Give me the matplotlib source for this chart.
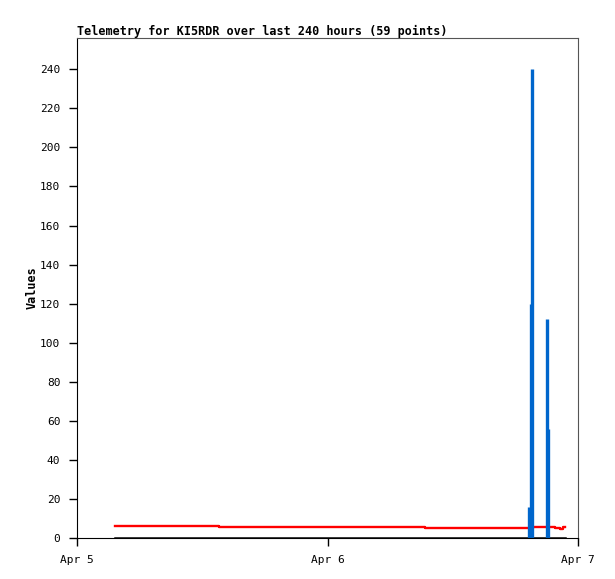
import datetime as dt
import matplotlib
matplotlib.use('Agg')
import matplotlib.pyplot as plt

base = dt.datetime(2024, 4, 5)

# hours after Apr 5 00:00
red_hours = [3.6, 13.6, 33.3, 43.7, 45.8, 46.3, 46.6, 46.8]
red_vals = [5.9, 5.4, 5.0, 5.7, 5.3, 4.6, 5.6, 5.6]

black_hours = [3.6, 46.8]
black_vals = [0, 0]

blue_hours = [43.35, 43.45, 43.6, 45.05, 45.15]
blue_vals = [16, 120, 240, 112, 56]

yticks = list(range(0, 241, 20))
xtick_days = [base, base + dt.timedelta(days=1), base + dt.timedelta(days=2)]
xtick_labels = ['Apr 5', 'Apr 6', 'Apr 7']


def to_dates(hours):
    return [base + dt.timedelta(hours=h) for h in hours]


plt.rcParams['font.family'] = 'DejaVu Sans Mono'
fig = plt.figure(figsize=(6.15, 5.79), dpi=100)
ax = fig.add_axes([77 / 615, 41 / 579, 501 / 615, 500 / 579])

ax.step(to_dates(red_hours), red_vals, where='post', color='#ff0000', lw=1.7)
ax.plot(to_dates(black_hours), black_vals, color='black', lw=1.8)
ax.vlines(to_dates(blue_hours), 0, blue_vals, color='#0066cc', lw=2.4)

ax.set_xlim(xtick_days[0], xtick_days[-1])
ax.set_ylim(0, 256)
ax.set_yticks(yticks)
ax.set_xticks(xtick_days)
ax.set_xticklabels(xtick_labels)
ax.tick_params(direction='out', length=6, labelsize=8, width=1, pad=6)

ax.set_title('Telemetry for KI5RDR over last 240 hours (59 points)',
             loc='left', fontsize=8.5, fontweight='bold', pad=2)
ax.set_ylabel('Values', fontsize=8.5, fontweight='bold', labelpad=1)

for s in ['top', 'right']:
    ax.spines[s].set_color('#555555')

fig.savefig('out.png', dpi=100)
